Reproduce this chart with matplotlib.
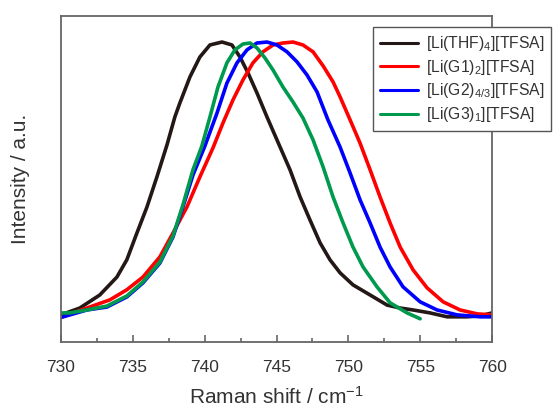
import matplotlib
matplotlib.use("Agg")
import matplotlib.pyplot as plt
from matplotlib.ticker import MultipleLocator

plt.rcParams['font.family'] = ['Liberation Sans', 'DejaVu Sans']
plt.rcParams['mathtext.fontset'] = 'custom'
plt.rcParams['mathtext.rm'] = 'Liberation Sans'
plt.rcParams['mathtext.it'] = 'Liberation Sans'

# Raman shift (cm-1) and normalised intensity
thf_x = [730.00, 731.32, 732.71, 733.90, 734.59, 735.29, 735.99, 736.68, 737.38, 737.93, 738.28, 738.98,
         739.67, 740.37, 741.21, 741.90, 742.46, 743.02, 743.64, 744.34, 745.03, 745.94, 746.64, 747.33,
         748.03, 748.72, 749.42, 750.32, 751.51, 752.69, 753.60, 754.50, 755.68, 756.87, 758.26, 759.16,
         760.00]
thf_y = [0.083, 0.104, 0.144, 0.199, 0.252, 0.334, 0.414, 0.506, 0.604, 0.690, 0.733, 0.813,
         0.874, 0.911, 0.920, 0.911, 0.874, 0.825, 0.764, 0.690, 0.620, 0.528, 0.445, 0.374,
         0.304, 0.252, 0.212, 0.175, 0.144, 0.113, 0.104, 0.098, 0.089, 0.077, 0.077, 0.080,
         0.089]

g1_x = [729.93, 731.81, 733.41, 734.59, 735.71, 736.89, 737.80, 738.77, 739.67, 740.58, 741.28, 741.97,
        742.67, 743.36, 744.06, 744.76, 745.45, 746.15, 746.84, 747.54, 748.24, 748.93, 749.42, 750.12,
        750.81, 751.51, 752.20, 752.90, 753.60, 754.50, 755.47, 756.59, 757.77, 758.96, 760.00]
g1_y = [0.074, 0.104, 0.129, 0.160, 0.199, 0.261, 0.334, 0.414, 0.506, 0.595, 0.672, 0.742,
        0.804, 0.856, 0.890, 0.911, 0.917, 0.920, 0.911, 0.890, 0.847, 0.798, 0.752, 0.681,
        0.610, 0.528, 0.445, 0.365, 0.291, 0.221, 0.166, 0.123, 0.098, 0.086, 0.083]

g2_x = [729.93, 731.81, 733.20, 734.59, 735.71, 736.89, 737.80, 738.49, 739.19, 740.02, 740.86, 741.55,
        742.25, 742.95, 743.64, 744.34, 745.03, 745.73, 746.43, 747.12, 747.82, 748.58, 749.42, 750.12,
        750.81, 751.51, 752.20, 752.90, 753.80, 754.99, 756.17, 757.56, 759.16, 760.00]
g2_y = [0.074, 0.098, 0.107, 0.138, 0.181, 0.242, 0.322, 0.414, 0.512, 0.601, 0.702, 0.794,
        0.856, 0.896, 0.917, 0.920, 0.911, 0.890, 0.859, 0.819, 0.767, 0.681, 0.598, 0.518,
        0.436, 0.365, 0.291, 0.230, 0.169, 0.123, 0.098, 0.083, 0.077, 0.077]

g3_x = [729.79, 730.63, 731.81, 733.20, 734.59, 735.71, 736.89, 737.80, 738.49, 739.19, 739.81, 740.37,
        740.93, 741.55, 742.11, 742.67, 743.16, 743.64, 744.20, 744.76, 745.45, 746.15, 746.84, 747.54,
        748.24, 748.93, 749.63, 750.32, 751.02, 751.99, 752.90, 754.08, 754.99]
g3_y = [0.089, 0.089, 0.098, 0.110, 0.141, 0.184, 0.245, 0.325, 0.420, 0.528, 0.601, 0.690,
        0.782, 0.856, 0.896, 0.914, 0.917, 0.902, 0.871, 0.834, 0.782, 0.736, 0.687, 0.620,
        0.537, 0.445, 0.365, 0.291, 0.230, 0.169, 0.120, 0.089, 0.071]

labels = [r'[Li(THF)$_\mathregular{4}$][TFSA]', r'[Li(G1)$_\mathregular{2}$][TFSA]',
          r'[Li(G2)$_\mathregular{4/3}$][TFSA]', r'[Li(G3)$_\mathregular{1}$][TFSA]']
colors = ['#231815', '#ff0000', '#0000ff', '#009a4e']

fig = plt.figure(figsize=(5.53, 4.09), dpi=100)
ax = fig.add_axes([0.110, 0.164, 0.780, 0.797])

series = [(thf_x, thf_y), (g1_x, g1_y), (g2_x, g2_y), (g3_x, g3_y)]
for (x, y), c, lab in zip(series, colors, labels):
    ax.plot(x, y, color=c, lw=2.6, label=lab, solid_joinstyle='round', solid_capstyle='round')

ax.set_xlim(730, 760)
ax.set_ylim(0, 1)
ax.xaxis.set_major_locator(MultipleLocator(5))
ax.xaxis.set_minor_locator(MultipleLocator(2.5))
ax.tick_params(axis='x', which='both', direction='in', top=False, colors='#666666',
               labelcolor='#333333', labelsize=12.5, pad=13, width=1.2)
ax.tick_params(axis='x', which='major', length=5)
ax.tick_params(axis='x', which='minor', length=3)
ax.set_yticks([])
for sp in ax.spines.values():
    sp.set_color('#666666')
    sp.set_linewidth(1.3)

ax.set_xlabel('Raman shift / cm$^\\mathregular{-1}$', fontsize=15, color='#333333', labelpad=8)
ax.set_ylabel('Intensity / a.u.', fontsize=15, color='#333333', labelpad=22)

leg = ax.legend(loc='upper left', bbox_to_anchor=(373 / 553, 1 - 27 / 409), bbox_transform=fig.transFigure,
                fontsize=11.3, frameon=True, fancybox=False, borderaxespad=0, handlelength=2.4,
                labelspacing=0.3, borderpad=0.45, handletextpad=0.5)
leg.get_frame().set_edgecolor('#555555')
leg.get_frame().set_linewidth(1.0)
leg.get_frame().set_alpha(1)
for t in leg.get_texts():
    t.set_color('#333333')
for l in leg.get_lines():
    l.set_linewidth(2.2)

fig.savefig('out.png', dpi=100)
